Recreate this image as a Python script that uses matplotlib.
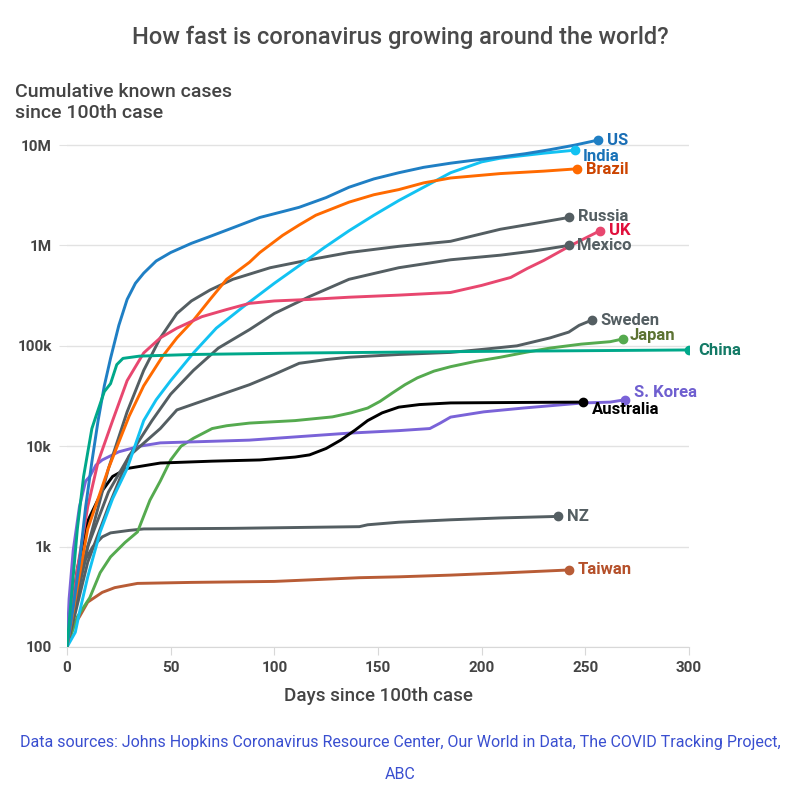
import matplotlib
matplotlib.use("Agg")
import matplotlib.pyplot as plt
from matplotlib.ticker import FixedLocator, NullLocator

plt.rcParams['font.family'] = ['Roboto', 'DejaVu Sans']

# days since 100th case / cumulative cases
us_days = [0, 3, 6, 9, 12, 15, 18, 21, 25, 29, 33, 37, 43, 50, 60, 69, 80, 93, 105, 112, 125, 136, 148, 160, 172,
           185, 197, 209, 221, 233, 245, 256]
us_cases = [100, 250, 700, 2500, 7000, 18e3, 40e3, 75e3, 160e3, 290e3, 420e3, 530e3, 700e3, 850e3, 1.05e6, 1.23e6,
            1.5e6, 1.9e6, 2.2e6, 2.4e6, 3.0e6, 3.8e6, 4.6e6, 5.3e6, 6.0e6, 6.6e6, 7.1e6, 7.6e6, 8.2e6, 9.0e6, 10e6,
            11.2e6]

india_days = [0, 4, 6, 10, 16, 22, 29, 37, 43, 50, 61, 72, 85, 100, 112, 124, 136, 148, 160, 174, 185, 200, 209,
              230, 245]
india_cases = [100, 140, 220, 500, 1400, 3000, 6000, 18e3, 29e3, 45e3, 85e3, 150e3, 245e3, 420e3, 630e3, 950e3,
               1.4e6, 2.0e6, 2.8e6, 4.0e6, 5.3e6, 6.8e6, 7.4e6, 8.3e6, 8.9e6]

brazil_days = [0, 5, 10, 15, 20, 25, 30, 37, 46, 53, 61, 69, 77, 88, 93, 104, 112, 120, 136, 148, 160, 172, 185,
               209, 230, 246]
brazil_cases = [100, 400, 1500, 3000, 6000, 11e3, 20e3, 40e3, 78e3, 120e3, 180e3, 290e3, 460e3, 680e3, 850e3,
                1.26e6, 1.6e6, 2.0e6, 2.7e6, 3.2e6, 3.6e6, 4.2e6, 4.7e6, 5.2e6, 5.5e6, 5.8e6]

russia_days = [0, 10, 20, 29, 37, 45, 53, 60, 69, 80, 98, 117, 136, 160, 185, 209, 225, 242]
russia_cases = [100, 1000, 6000, 22e3, 57e3, 120e3, 210e3, 280e3, 360e3, 460e3, 600e3, 720e3, 850e3, 980e3, 1.1e6,
                1.45e6, 1.65e6, 1.9e6]

uk_days = [0, 5, 10, 15, 22, 29, 37, 45, 53, 65, 77, 88, 100, 117, 136, 160, 185, 200, 209, 214, 222, 230, 243,
           257]
uk_cases = [100, 600, 2500, 7000, 18e3, 45e3, 85e3, 120e3, 150e3, 195e3, 230e3, 265e3, 280e3, 290e3, 305e3,
            320e3, 340e3, 400e3, 450e3, 480e3, 590e3, 710e3, 1.0e6, 1.4e6]

mexico_days = [0, 10, 20, 30, 41, 50, 61, 73, 88, 100, 117, 136, 160, 185, 209, 225, 242]
mexico_cases = [100, 700, 2500, 8000, 18e3, 33e3, 57e3, 95e3, 145e3, 210e3, 310e3, 460e3, 600e3, 720e3, 800e3,
                880e3, 1e6]

sweden_days = [0, 5, 10, 20, 30, 45, 53, 67, 88, 100, 112, 125, 136, 160, 185, 200, 217, 233, 242, 247, 253]
sweden_cases = [100, 400, 1000, 3500, 8000, 15e3, 23e3, 29e3, 41e3, 52e3, 67e3, 73e3, 77e3, 82e3, 86e3, 92e3,
                100e3, 120e3, 137e3, 160e3, 180e3]

japan_days = [0, 5, 11, 16, 21, 28, 34, 40, 45, 50, 55, 61, 70, 77, 88, 110, 128, 137, 145, 151, 157, 163, 169,
              177, 185, 197, 209, 221, 233, 248, 262, 268]
japan_cases = [100, 200, 310, 550, 790, 1100, 1400, 2900, 4500, 7300, 10e3, 12e3, 15e3, 16e3, 17e3, 18e3, 19.6e3,
               21.5e3, 24e3, 28e3, 34e3, 41e3, 48e3, 56e3, 62e3, 70e3, 77e3, 86e3, 95e3, 104e3, 110e3, 117e3]

china_days = [0, 5, 8, 12, 14, 18, 21, 24, 27, 35, 60, 117, 200, 300]
china_cases = [100, 1500, 5000, 15e3, 20e3, 35e3, 42e3, 65e3, 75e3, 79e3, 82e3, 85e3, 88e3, 91e3]

korea_days = [0, 1, 3, 6, 9, 11, 14, 17, 25, 35, 45, 70, 88, 120, 136, 160, 175, 180, 185, 201, 220, 249, 262, 269]
korea_cases = [100, 300, 920, 2500, 4500, 5000, 6500, 7300, 8800, 10e3, 10.8e3, 11.2e3, 11.5e3, 12.8e3, 13.5e3,
               14.3e3, 15e3, 17e3, 19.5e3, 22e3, 24e3, 27e3, 27.5e3, 29e3]

australia_days = [0, 5, 10, 17, 22, 29, 45, 70, 93, 110, 117, 125, 132, 139, 145, 152, 160, 170, 185, 220, 249]
australia_cases = [100, 600, 1800, 3600, 5000, 6000, 6800, 7100, 7300, 7800, 8200, 9500, 11.5e3, 14.5e3, 18e3,
                   21.5e3, 24.5e3, 26e3, 27e3, 27.3e3, 27.5e3]

nz_days = [0, 3, 6, 9, 12.5, 17, 21, 30, 37, 80, 141, 145, 160, 185, 209, 237]
nz_cases = [100, 250, 450, 750, 1000, 1250, 1370, 1450, 1500, 1520, 1580, 1650, 1750, 1850, 1930, 2000]

taiwan_days = [0, 2, 6, 10, 17, 23, 30, 34, 60, 100, 141, 160, 185, 209, 242]
taiwan_cases = [100, 150, 200, 280, 350, 390, 415, 430, 440, 450, 490, 500, 520, 545, 585]

# name, days, cases, line colour, label colour, label offset (px)
series = [
    ("Taiwan", taiwan_days, taiwan_cases, "#b85c36", "#b5502a", (9, 0)),
    ("NZ", nz_days, nz_cases, "#545e62", "#545e62", (9, 0)),
    ("Japan", japan_days, japan_cases, "#55aa4f", "#5c7232", (7, 3)),
    ("S. Korea", korea_days, korea_cases, "#7a63d8", "#6f5fd0", (9, 7)),
    ("Australia", australia_days, australia_cases, "#000000", "#000000", (9, -7)),
    ("Sweden", sweden_days, sweden_cases, "#545e62", "#545e62", (9, 0)),
    ("Mexico", mexico_days, mexico_cases, "#545e62", "#545e62", (8, 0)),
    ("Russia", russia_days, russia_cases, "#545e62", "#545e62", (9, 1)),
    ("India", india_days, india_cases, "#12c2f2", "#1a73b8", (8, -6)),
    ("Brazil", brazil_days, brazil_cases, "#ff6a00", "#cc4400", (9, -1)),
    ("UK", uk_days, uk_cases, "#e8476f", "#e0103c", (9, 0)),
    ("US", us_days, us_cases, "#1f7fc4", "#1a6eb5", (9, 0)),
    ("China", china_days, china_cases, "#00a88a", "#137a66", (9, -1)),
]

fig = plt.figure(figsize=(8, 7.87), dpi=100)
ax = fig.add_axes([0.08375, 0.1779, 0.7775, 0.6569])

for name, d, c, col, lcol, off in series:
    ax.plot(d, c, color=col, lw=2.1, solid_capstyle='round', solid_joinstyle='round', zorder=3)
    ax.plot(d[-1], c[-1], 'o', color=col, ms=6, zorder=4)
    ax.annotate(name, (d[-1], c[-1]), xytext=off, textcoords='offset pixels',
                ha='left', va='center', color=lcol, fontsize=12, fontweight='bold', zorder=5)

ax.set_yscale('log')
ax.set_xlim(0, 300)
ax.set_ylim(100, 10 ** 7.15)
ax.yaxis.set_major_locator(FixedLocator([1e2, 1e3, 1e4, 1e5, 1e6, 1e7]))
ax.yaxis.set_minor_locator(NullLocator())
ax.set_yticklabels(["100", "1k", "10k", "100k", "1M", "10M"])
ax.set_xticks([0, 50, 100, 150, 200, 250, 300])

ax.grid(axis='y', color='#e2e2e2', lw=1, zorder=0)
for s in ['top', 'right', 'left']:
    ax.spines[s].set_visible(False)
ax.spines['bottom'].set_color('#d8d8d8')
ax.tick_params(axis='y', length=6, color='#e2e2e2', pad=5, labelsize=11, labelcolor='#444444')
ax.tick_params(axis='x', length=6, color='#d8d8d8', pad=4, labelsize=11, labelcolor='#444444')
for lab in ax.get_xticklabels() + ax.get_yticklabels():
    lab.set_fontweight('bold')

ax.set_xlabel("Days since 100th case", fontsize=13.5, color='#444444', labelpad=9, fontweight='medium')

fig.text(0.5, 0.953, "How fast is coronavirus growing around the world?", ha='center', va='center',
         fontsize=17, color='#4a4a4a', fontweight='medium')
fig.text(0.019, 0.8835, "Cumulative known cases", ha='left', va='center', fontsize=14, color='#444444',
         fontweight='medium')
fig.text(0.019, 0.857, "since 100th case", ha='left', va='center', fontsize=14, color='#444444',
         fontweight='medium')
fig.text(0.5, 0.057, "Data sources: Johns Hopkins Coronavirus Resource Center, Our World in Data, The COVID Tracking Project,",
         ha='center', va='center', fontsize=11.5, color='#3a4fd0')
fig.text(0.5, 0.0165, "ABC", ha='center', va='center', fontsize=11.5, color='#3a4fd0')

fig.savefig("out.png", dpi=100)
